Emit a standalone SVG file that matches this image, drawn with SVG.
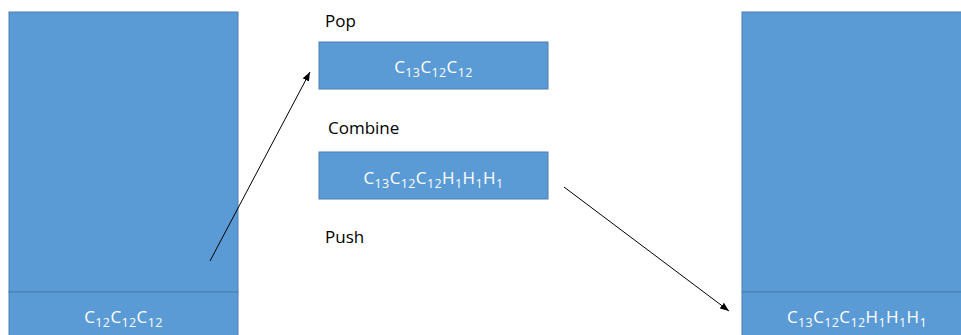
<svg xmlns="http://www.w3.org/2000/svg" width="961" height="335" viewBox="0 0 961 335">
<style>
.box{fill:#5B9BD5;stroke:#4A7EB3;stroke-width:1}
.lbl{font-family:"Open Sans","Liberation Sans",sans-serif;font-size:17px;fill:#000}
.t{font-family:"Open Sans","Liberation Sans",sans-serif;font-size:17px;fill:#fff;text-anchor:middle;letter-spacing:0.4px}
.s{font-size:12.5px}
.conn{stroke:#000;stroke-width:1;fill:none;marker-end:url(#ah)}
</style>
<defs>
<marker id="ah" markerUnits="userSpaceOnUse" markerWidth="10" markerHeight="8" refX="9" refY="3.5" orient="auto">
<path d="M0,0 L9,3.5 L0,7 z" fill="#000"/>
</marker>
</defs>
<g id="left-stack">
<rect class="box" x="9" y="12" width="229" height="280"/>
<rect class="box" x="9" y="292" width="229" height="50"/>
<text class="t" x="123.5" y="323">C<tspan class="s" dy="4">12</tspan><tspan dy="-4">C</tspan><tspan class="s" dy="4">12</tspan><tspan dy="-4">C</tspan><tspan class="s" dy="4">12</tspan></text>
</g>
<g id="pop">
<text class="lbl" x="325" y="27">Pop</text>
<rect class="box" x="319" y="42" width="229" height="47"/>
<text class="t" x="433.5" y="73">C<tspan class="s" dy="4">13</tspan><tspan dy="-4">C</tspan><tspan class="s" dy="4">12</tspan><tspan dy="-4">C</tspan><tspan class="s" dy="4">12</tspan></text>
</g>
<g id="combine">
<text class="lbl" x="328" y="134">Combine</text>
<rect class="box" x="319" y="152" width="229" height="47"/>
<text class="t" x="433.5" y="184">C<tspan class="s" dy="4">13</tspan><tspan dy="-4">C</tspan><tspan class="s" dy="4">12</tspan><tspan dy="-4">C</tspan><tspan class="s" dy="4">12</tspan><tspan dy="-4">H</tspan><tspan class="s" dy="4">1</tspan><tspan dy="-4">H</tspan><tspan class="s" dy="4">1</tspan><tspan dy="-4">H</tspan><tspan class="s" dy="4">1</tspan></text>
</g>
<g id="push">
<text class="lbl" x="325" y="243">Push</text>
</g>
<g id="right-stack">
<rect class="box" x="742" y="12" width="230" height="280"/>
<rect class="box" x="742" y="292" width="230" height="50"/>
<text class="t" x="857" y="323">C<tspan class="s" dy="4">13</tspan><tspan dy="-4">C</tspan><tspan class="s" dy="4">12</tspan><tspan dy="-4">C</tspan><tspan class="s" dy="4">12</tspan><tspan dy="-4">H</tspan><tspan class="s" dy="4">1</tspan><tspan dy="-4">H</tspan><tspan class="s" dy="4">1</tspan><tspan dy="-4">H</tspan><tspan class="s" dy="4">1</tspan></text>
</g>
<g id="connectors">
<line class="conn" x1="210" y1="261" x2="310" y2="72"/>
<line class="conn" x1="564" y1="187" x2="729" y2="311"/>
</g>
</svg>
